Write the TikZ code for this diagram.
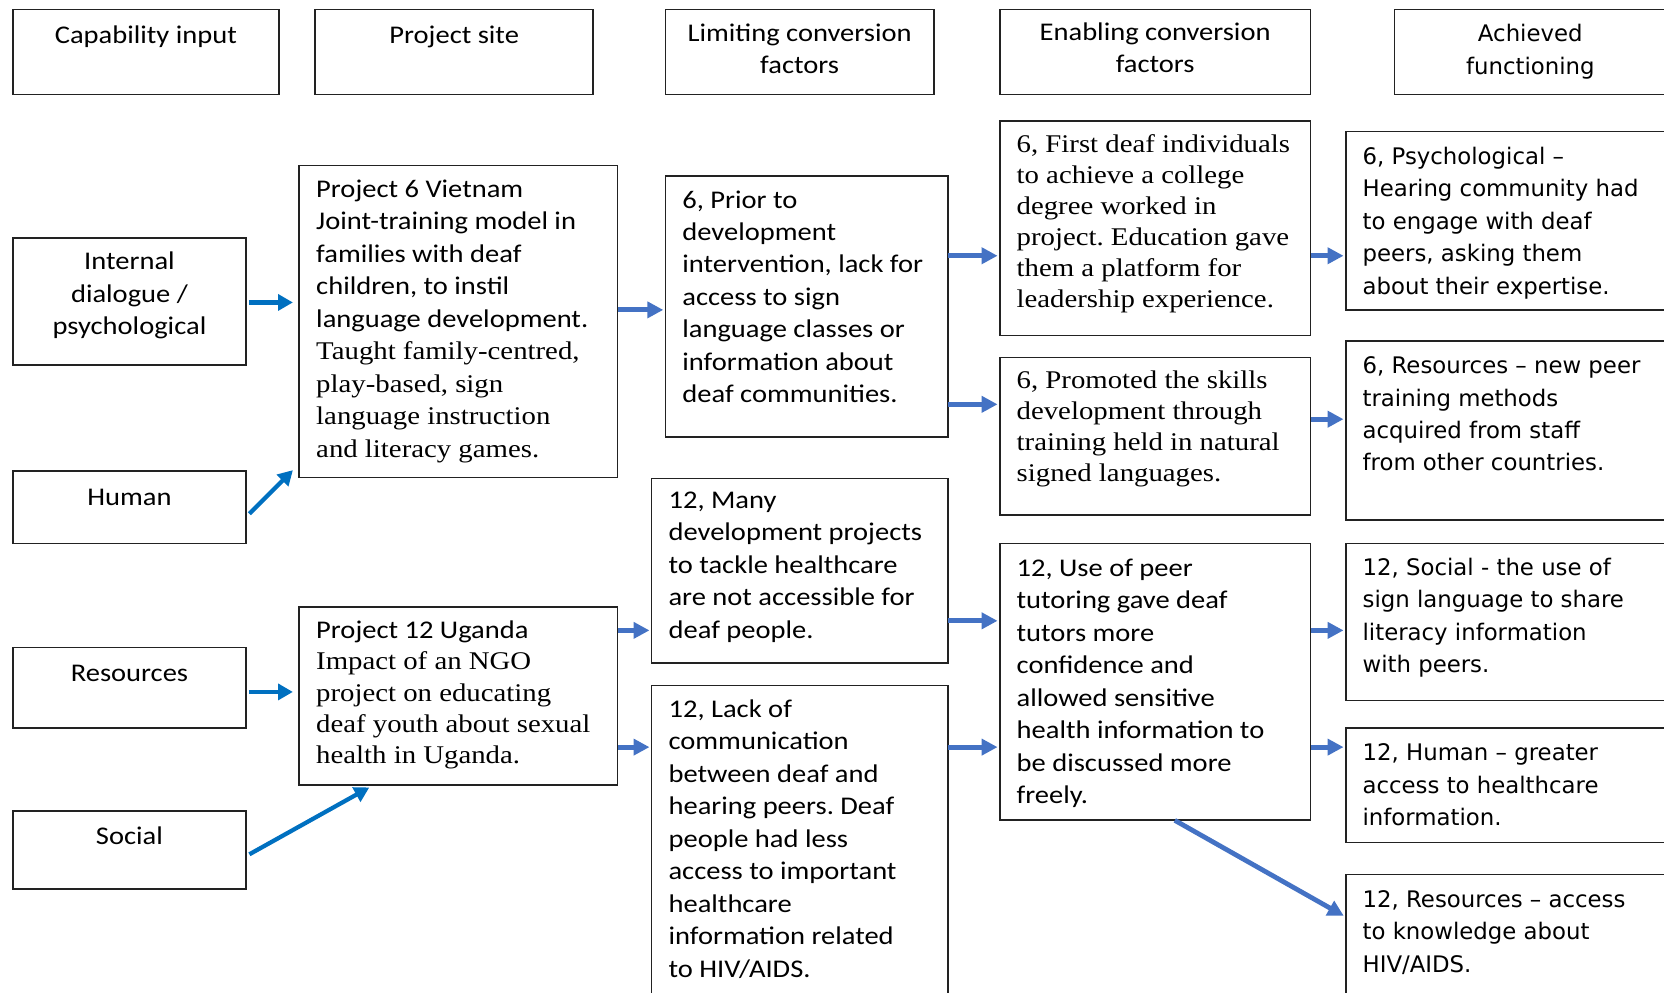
\documentclass[tikz,border=0pt]{standalone}
\usepackage{fontspec}
\setmainfont{Carlito}[FakeStretch=1.12]
\newfontfamily\tnr{Liberation Serif}[FakeStretch=1.13]
\newfontfamily\vdn{DejaVu Sans}
\usetikzlibrary{arrows.meta,calc}
\frenchspacing

\definecolor{inblue}{HTML}{0070C0}
\definecolor{flowblue}{HTML}{4472C4}
\definecolor{edge}{HTML}{222222}

% paragraph formats used inside the boxes
\newcommand\ctr{\centering\fontsize{24}{30.6}\selectfont}
\newcommand\cbody{\raggedright\fontsize{24}{30.6}\selectfont}
\newcommand\tbody{\raggedright\tnr\fontsize{24}{29.2}\selectfont}
\newcommand\vctr{\centering\vdn\fontsize{21.5}{31}\selectfont}
\newcommand\vbody{\raggedright\vdn\fontsize{21.5}{30.6}\selectfont}

% box: name, x1, y1, x2, y2, first baseline offset, format, text
\newcommand\mkcell[8]{%
  \node[cellbox] (#1) at (#2,#3)
    {\parbox[t][\dimexpr #5pt-#3pt\relax][t]{\dimexpr #4pt-#2pt-32pt\relax}%
      {#7\rule{0pt}{#6pt}\ignorespaces #8}};}

\begin{document}
\begin{tikzpicture}[x=1pt,y=-1pt,
  cellbox/.style={draw=edge, line width=1.6pt, anchor=north west,
    inner xsep=16pt, inner ysep=0pt, outer sep=0pt},
  arrL/.style={draw=inblue, line width=4pt,
    -{Triangle[length=14pt,width=15pt]}, shorten <=3pt, shorten >=6pt},
  arrM/.style={draw=flowblue, line width=4.5pt,
    -{Triangle[length=15pt,width=15pt]}, shorten >=2pt}]

\useasboundingbox (0,0) rectangle (1568,935);
\clip (0,0) rectangle (1568,935);
\fill[white] (0,0) rectangle (1568,935);

% column headings
\mkcell{h1}{12}{9}{263}{89}{32}{\ctr}{Capability input}
\mkcell{h2}{297}{9}{559}{89}{32}{\ctr}{Project site}
\mkcell{h3}{627}{9}{880}{89}{30}{\ctr}{Limiting conversion\\factors}
\mkcell{h4}{942}{9}{1235}{89}{29}{\ctr}{Enabling conversion\\factors}
\mkcell{h5}{1314}{9}{1570}{89}{30}{\vctr}{Achieved\\functioning}

% capability inputs
\mkcell{int}{12}{224}{232}{344}{30}{\ctr}{Internal\\dialogue /\\psychological}
\mkcell{hum}{12}{444}{232}{512}{32}{\ctr}{Human}
\mkcell{res}{12}{610}{232}{686}{32}{\ctr}{Resources}
\mkcell{soc}{12}{764}{232}{838}{32}{\ctr}{Social}

% project sites
\mkcell{p6}{282}{156}{582}{450}{30}{\cbody}{Project 6 Vietnam\\Joint-training model in\\families with deaf\\children, to instil\\language development.\\\tnr Taught family-centred,\\play-based, sign\\language instruction\\and literacy games.}
\mkcell{p12}{282}{572}{582}{740}{30}{\raggedright\fontsize{24}{29.3}\selectfont}{Project 12 Uganda\\\tnr Impact of an NGO\\project on educating\\deaf youth about sexual\\health in Uganda.}

% limiting conversion factors
\mkcell{l6}{627}{166}{893}{412}{30}{\cbody}{6, Prior to\\development\\intervention, lack for\\access to sign\\language classes or\\information about\\deaf communities.}
\mkcell{many}{614}{451}{893}{625}{28}{\cbody}{12, Many\\development projects\\to tackle healthcare\\are not accessible for\\deaf people.}
\mkcell{lack}{614}{646}{893}{960}{30}{\cbody}{12, Lack of\\communication\\between deaf and\\hearing peers. Deaf\\people had less\\access to important\\healthcare\\information related\\to HIV/AIDS.}

% enabling conversion factors
\mkcell{e6a}{942}{114}{1235}{316}{30}{\tbody}{6, First deaf individuals\\to achieve a college\\degree worked in\\project. Education gave\\them a platform for\\leadership experience.}
\mkcell{e6b}{942}{337}{1235}{485}{29}{\tbody}{6, Promoted the skills\\development through\\training held in natural\\signed languages.}
\mkcell{e12}{942}{512}{1235}{773}{31}{\cbody}{12, Use of peer\\tutoring gave deaf\\tutors more\\confidence and\\allowed sensitive\\health information to\\be discussed more\\freely.}

% achieved functionings
\mkcell{a1}{1268}{124}{1572}{292}{31}{\vbody}{6, Psychological –\\Hearing community had\\to engage with deaf\\peers, asking them\\about their expertise.}
\mkcell{a2}{1268}{321}{1572}{490}{31}{\vbody}{6, Resources – new peer\\training methods\\acquired from staff\\from other countries.}
\mkcell{a3}{1268}{512}{1572}{660}{30}{\vbody}{12, Social - the use of\\sign language to share\\literacy information\\with peers.}
\mkcell{a4}{1268}{686}{1572}{794}{31}{\vbody}{12, Human – greater\\access to healthcare\\information.}
\mkcell{a5}{1268}{824}{1572}{960}{31}{\vbody}{12, Resources – access\\to knowledge about\\HIV/AIDS.}

% inputs into the project sites
\draw[arrL] (int.east |- 0,285) -- (p6.west |- 0,285);
\draw[arrL, shorten <=0pt, shorten >=0pt] ([xshift=3pt,yshift=-6pt]hum.east) -- ([xshift=-6pt,yshift=7pt]p6.south west);
\draw[arrL] (res.east |- 0,652) -- (p12.west |- 0,652);
\draw[arrL, shorten <=0pt, shorten >=0pt] ([xshift=3pt,yshift=-4pt]soc.east) -- ([xshift=66pt,yshift=-2pt]p12.south west);

% project sites to limiting factors
\draw[arrM] (p6.east |- 0,292) -- (l6.west |- 0,292);
\draw[arrM] (p12.east |- 0,594) -- (many.west |- 0,594);
\draw[arrM] (p12.east |- 0,704) -- (lack.west |- 0,704);

% limiting to enabling factors
\draw[arrM] (l6.east |- 0,241) -- (e6a.west |- 0,241);
\draw[arrM] (l6.east |- 0,381) -- (e6b.west |- 0,381);
\draw[arrM] (many.east |- 0,585) -- (e12.west |- 0,585);
\draw[arrM] (lack.east |- 0,704) -- (e12.west |- 0,704);

% enabling factors to achieved functionings
\draw[arrM] (e6a.east |- 0,241) -- (a1.west |- 0,241);
\draw[arrM] (e6b.east |- 0,395) -- (a2.west |- 0,395);
\draw[arrM] (e12.east |- 0,594) -- (a3.west |- 0,594);
\draw[arrM] (e12.east |- 0,704) -- (a4.west |- 0,704);
\draw[arrM] ([xshift=18.5pt]e12.south) -- ([yshift=-40pt]a5.north west);
\end{tikzpicture}
\end{document}
